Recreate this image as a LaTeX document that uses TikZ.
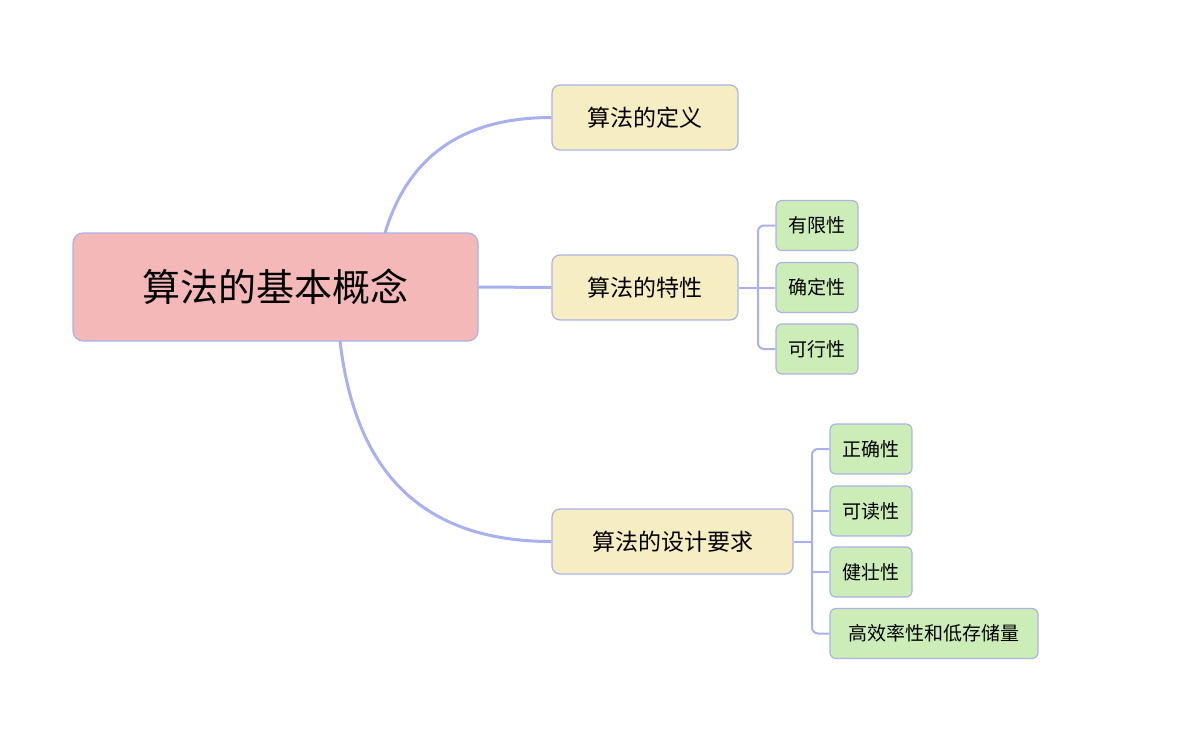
\documentclass[tikz,border=0pt]{standalone}
\usepackage{fontspec}
\setmainfont{Noto Sans CJK SC}
\definecolor{edge}{HTML}{A8B0F0}
\definecolor{bord}{HTML}{AAB2E6}
\definecolor{pinkf}{HTML}{F4B8B8}
\definecolor{yelf}{HTML}{F7EDC2}
\definecolor{grnf}{HTML}{CDEDB8}
\tikzset{
 rootbox/.style={draw=bord,line width=1.2pt,fill=pinkf,rounded corners=10pt,minimum width=405pt,minimum height=108pt,font=\fontsize{38}{44}\selectfont},
 midbox/.style={draw=bord,line width=1.2pt,fill=yelf,rounded corners=8pt,minimum height=65pt,font=\fontsize{23}{28}\selectfont},
 leafbox/.style={draw=bord,line width=1.2pt,fill=grnf,rounded corners=6pt,minimum height=50pt,font=\fontsize{19}{24}\selectfont},
 thick link/.style={draw=edge,line width=3pt},
 thin link/.style={draw=edge,line width=2pt,rounded corners=6pt}
}
\begin{document}
\begin{tikzpicture}[x=1pt,y=-1pt]
\useasboundingbox (0,0) rectangle (1188,755);
\node[rootbox] (root) at (275.5,287) {算法的基本概念};
\node[midbox,minimum width=186pt] (def) at (645,117.5) {算法的定义};
\node[midbox,minimum width=186pt] (feat) at (645,287.5) {算法的特性};
\node[midbox,minimum width=241pt] (req) at (672.5,541.5) {算法的设计要求};
\node[leafbox,minimum width=82pt] (f1) at (817,225.5) {有限性};
\node[leafbox,minimum width=82pt] (f2) at (817,287.5) {确定性};
\node[leafbox,minimum width=82pt] (f3) at (817,349) {可行性};
\node[leafbox,minimum width=82pt] (r1) at (871,449) {正确性};
\node[leafbox,minimum width=82pt] (r2) at (871,511) {可读性};
\node[leafbox,minimum width=82pt] (r3) at (871,572) {健壮性};
\node[leafbox,minimum width=208pt] (r4) at (934,633.5) {高效率性和低存储量};
\coordinate (rt) at (385,233);
\coordinate (rb) at (340,341);
\begin{scope}[on background layer/.style={}]
\draw[thick link] (rt) .. controls (410,150) and (470,117.5) .. (def.west);
\draw[thick link] (root.east) -- (feat.west);
\draw[thick link] (rb) .. controls (355,470) and (420,541.5) .. (req.west);
\end{scope}
\coordinate (fb) at (758,287.5);
\coordinate (rbk) at (812,541.5);
\draw[thin link] (feat.east) -- (fb);
\draw[thin link] (f1.west) -| (fb) |- (f3.west);
\draw[thin link] (fb) -- (f2.west);
\draw[thin link] (req.east) -- (rbk);
\draw[thin link] (r1.west) -| (rbk) |- (r4.west);
\draw[thin link] (812,511) -- (r2.west);
\draw[thin link] (812,572) -- (r3.west);
\end{tikzpicture}
\end{document}
